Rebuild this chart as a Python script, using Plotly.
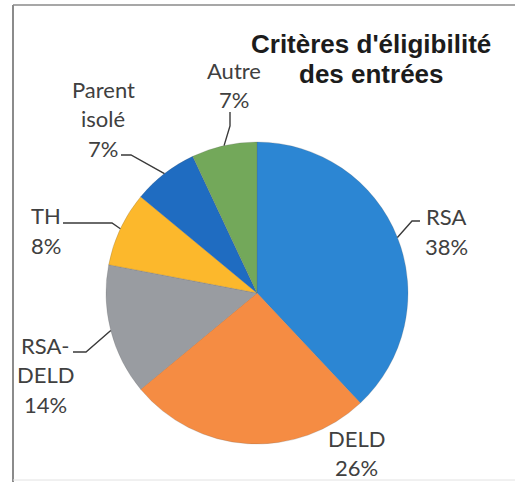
import math
import plotly.graph_objects as go

# Data
categories = ["RSA", "DELD", "RSA-DELD", "TH", "Parent isolé", "Autre"]
shares = [38, 26, 14, 8, 7, 7]
label_lines = [["RSA"], ["DELD"], ["RSA-", "DELD"], ["TH"], ["Parent", "isolé"], ["Autre"]]

colors = ["#2c86d3", "#f58c43", "#999ca1", "#fcb82c", "#1f6cc1", "#73a85a"]

W, H = 515, 482
CX, CY, R = 257, 293, 151  # pie centre and radius in pixels
LINE_GAP = 29.5            # spacing between lines of a data label

# label placement: x centre and y centre of the first text line, in pixels
label_pos = {
    "RSA": (446, 217),
    "DELD": (356, 438),
    "RSA-DELD": (45, 345),
    "TH": (46, 216),
    "Parent isolé": (103, 89),
    "Autre": (234, 70),
}
# leader-line points running from the label towards the slice edge
leader_start = {
    "RSA": [(420, 221), (412, 221)],
    "RSA-DELD": [(73, 352), (86, 352)],
    "TH": [(63, 223), (112, 223)],
    "Parent isolé": [(121, 155), (131, 155)],
    "Autre": [(230, 112), (230, 126)],
}


def px(x):
    return x / W


def py(y):
    return 1 - y / H


fig = go.Figure(
    go.Pie(
        labels=categories,
        values=shares,
        sort=False,
        direction="clockwise",
        rotation=0,
        textinfo="none",
        hoverinfo="label+percent",
        marker=dict(colors=colors, line=dict(color="rgba(90,90,90,0.35)", width=0.6)),
        domain=dict(x=[px(CX - R), px(CX + R)], y=[py(CY + R), py(CY - R)]),
        showlegend=False,
    )
)

label_font = dict(family="Lato, Carlito, sans-serif", size=22, color="#404040")
annotations = []
shapes = []
total = sum(shares)
cum = 0
for cat, val, lines in zip(categories, shares, label_lines):
    mid = (cum + val / 2) / total * 2 * math.pi
    cum += val
    ex = CX + R * math.sin(mid)
    ey = CY - R * math.cos(mid)
    pct = round(100 * val / total)
    lx, ly = label_pos[cat]
    for i, line in enumerate(lines + [f"{pct}%"]):
        annotations.append(
            dict(
                x=px(lx), y=py(ly + i * LINE_GAP), xref="paper", yref="paper",
                text=line, showarrow=False,
                xanchor="center", yanchor="middle", align="center",
                font=label_font,
            )
        )
    if cat in leader_start:
        pts = leader_start[cat] + [(ex, ey)]
        path = "M " + " L ".join(f"{px(x):.5f},{py(y):.5f}" for x, y in pts)
        shapes.append(
            dict(type="path", path=path, xref="paper", yref="paper",
                 line=dict(color="#3a3a3a", width=1.4))
        )

# title, two lines
title_font = dict(family="Liberation Sans, Arial, sans-serif", size=26, color="#1c1c1c", weight="bold")
annotations.append(dict(x=px(371), y=py(44), xref="paper", yref="paper",
                        text="Critères d'éligibilité", showarrow=False,
                        xanchor="center", yanchor="middle", font=title_font))
annotations.append(dict(x=px(371), y=py(74), xref="paper", yref="paper",
                        text="des entrées", showarrow=False,
                        xanchor="center", yanchor="middle", font=title_font))

# frame lines
shapes += [
    dict(type="line", xref="paper", yref="paper", x0=px(13), x1=px(13), y0=py(5), y1=py(482),
         line=dict(color="#6e6e6e", width=1.6)),
    dict(type="line", xref="paper", yref="paper", x0=px(13), x1=1, y0=py(5), y1=py(5),
         line=dict(color="#8a8a8a", width=1.6)),
    dict(type="line", xref="paper", yref="paper", x0=px(13), x1=1, y0=py(480), y1=py(480),
         line=dict(color="#e2e2e2", width=1)),
]

fig.update_layout(
    width=W, height=H,
    margin=dict(l=0, r=0, t=0, b=0),
    paper_bgcolor="white",
    plot_bgcolor="white",
    annotations=annotations,
    shapes=shapes,
)

fig.write_html("out.html")
